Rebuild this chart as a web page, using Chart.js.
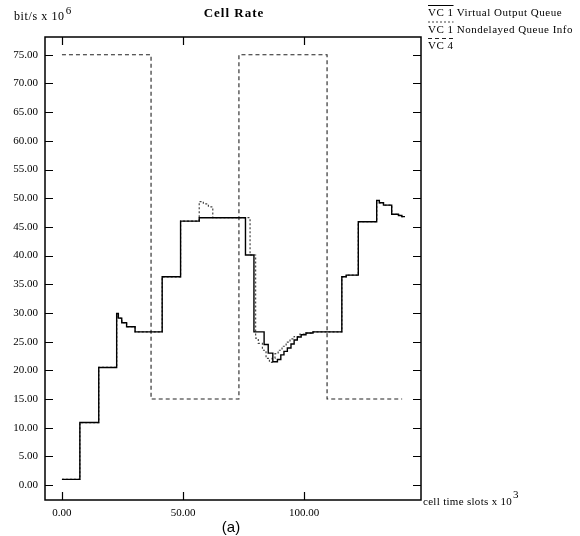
<!DOCTYPE html>
<html>
<head>
<meta charset="utf-8">
<script src="https://cdn.jsdelivr.net/npm/chart.js@4.4.0/dist/chart.umd.min.js"></script>
<style>
  html, body { margin: 0; padding: 0; background: #fff; }
  #wrap { width: 580px; height: 536px; }
</style>
</head>
<body>
<div id="wrap"><canvas id="chart" width="580" height="536"></canvas></div>
<script>
// valores (x: cell time slots x 10^3, y: bit/s x 10^6)
const seriesNames = ['VC 1 Virtual Output Queue', 'VC 1 Nondelayed Queue Info', 'VC 4'];

const voqX = [0, 7.4, 15.2, 22.6, 23.3, 24.7, 26.7, 30.2, 41.4, 49.0, 56.7, 75.8, 79.3, 83.5, 85.2, 87.1,
  89.0, 90.4, 91.7, 93.1, 94.6, 95.9, 97.2, 98.8, 100.8, 103.7, 115.6, 117.4, 122.4, 130.0, 131.1,
  132.8, 136.2, 139.0, 140.4, 141.7];
const voqY = [1.0, 10.9, 20.5, 29.9, 29.1, 28.3, 27.6, 26.7, 36.3, 46.0, 46.6, 40.1, 26.7, 24.5, 23.0, 21.5,
  21.9, 22.7, 23.3, 23.9, 24.6, 25.3, 25.8, 26.2, 26.5, 26.7, 36.3, 36.6, 45.9, 49.6, 49.2,
  48.8, 47.2, 47.0, 46.8, 46.8];

const ndqX = [0, 7.4, 15.2, 22.6, 23.3, 24.7, 26.7, 30.2, 41.4, 49.0, 56.7, 58.4, 60.5, 62.3, 77.7, 80.0,
  81.1, 82.8, 84.3, 85.7, 86.8, 88.0, 89.3, 90.9, 92.6, 94.2, 95.9, 98.3, 100.8, 103.7, 115.6,
  117.4, 122.4, 130.0, 131.1, 132.8, 136.2, 139.0, 140.4, 141.7];
const ndqY = [1.0, 10.9, 20.5, 29.9, 29.1, 28.3, 27.6, 26.7, 36.3, 46.0, 49.4, 49.0, 48.5, 46.6, 40.1, 25.6,
  24.7, 23.5, 22.1, 21.4, 22.1, 22.9, 23.5, 24.2, 24.9, 25.5, 25.9, 26.3, 26.5, 26.7, 36.3,
  36.6, 45.9, 49.6, 49.2, 48.8, 47.2, 47.0, 46.8, 46.8];

const vc4X = [0, 36.8, 73.1, 109.5, 140.5];
const vc4Y = [75, 15, 75, 15, 15];

const xTicks = [0, 50, 100];
const yTicks = [0, 5, 10, 15, 20, 25, 30, 35, 40, 45, 50, 55, 60, 65, 70, 75];

function toPoints(xs, ys) {
  return xs.map((x, i) => ({ x: x, y: ys[i] }));
}

const SERIF = '"Liberation Serif", "Times New Roman", serif';

// marco con marcas hacia dentro, textos sueltos y leyenda
const framePlugin = {
  id: 'frame',
  afterDraw(chart) {
    const ctx = chart.ctx;
    const a = chart.chartArea;
    const xs = chart.scales.x, ys = chart.scales.y;
    ctx.save();
    ctx.strokeStyle = '#000';
    ctx.lineWidth = 1.5;
    ctx.strokeRect(a.left, a.top, a.right - a.left, a.bottom - a.top);
    ctx.lineWidth = 1.2;
    ctx.beginPath();
    yTicks.forEach(v => {
      const p = Math.round(ys.getPixelForValue(v)) + 0.5;
      ctx.moveTo(a.left, p); ctx.lineTo(a.left + 8, p);
      ctx.moveTo(a.right, p); ctx.lineTo(a.right - 8, p);
    });
    xTicks.forEach(v => {
      const p = Math.round(xs.getPixelForValue(v)) + 0.5;
      ctx.moveTo(p, a.bottom); ctx.lineTo(p, a.bottom - 8);
      ctx.moveTo(p, a.top); ctx.lineTo(p, a.top + 8);
    });
    ctx.stroke();

    ctx.fillStyle = '#000';
    ctx.textBaseline = 'alphabetic';
    // titulo
    ctx.font = 'bold 13px ' + SERIF;
    ctx.textAlign = 'center';
    ctx.letterSpacing = '1px';
    ctx.fillText('Cell Rate', 234, 17);
    // unidades
    ctx.textAlign = 'left';
    ctx.letterSpacing = '0.6px';
    ctx.font = '12px ' + SERIF;
    ctx.fillText('bit/s x 10', 14, 20);
    let w = ctx.measureText('bit/s x 10').width;
    ctx.font = '11px ' + SERIF;
    ctx.fillText('6', 14 + w + 1, 14);
    ctx.letterSpacing = '0.3px';
    ctx.font = '11px ' + SERIF;
    ctx.fillText('cell time slots x 10', a.right + 2, a.bottom + 5);
    w = ctx.measureText('cell time slots x 10').width;
    ctx.font = '11px ' + SERIF;
    ctx.fillText('3', a.right + 2 + w + 1, a.bottom - 2);
    ctx.letterSpacing = '0px';
    // (a)
    ctx.font = '15px "Liberation Sans", Arial, sans-serif';
    ctx.textAlign = 'center';
    ctx.fillText('(a)', 231, 532);

    // leyenda
    ctx.textAlign = 'left';
    ctx.font = '11px ' + SERIF;
    ctx.letterSpacing = '0.5px';
    chart.data.datasets.forEach((ds, i) => {
      const baseY = 16 + i * 16.5;
      const lx = a.right + 7;
      ctx.fillStyle = '#000';
      ctx.fillText(ds.label, lx, baseY);
      const lw = ctx.measureText(ds.label.slice(0, 4)).width;
      ctx.strokeStyle = ds.borderColor;
      ctx.lineWidth = 1;
      ctx.setLineDash(ds.borderDash || []);
      ctx.beginPath();
      ctx.moveTo(lx, baseY - 10.5);
      ctx.lineTo(lx + lw, baseY - 10.5);
      ctx.stroke();
      ctx.setLineDash([]);
    });
    ctx.restore();
  }
};

new Chart(document.getElementById('chart'), {
  type: 'line',
  data: {
    datasets: [{
      label: seriesNames[0],
      data: toPoints(voqX, voqY),
      borderColor: '#000',
      borderWidth: 1.4,
      stepped: 'before',
      pointRadius: 0
    }, {
      label: seriesNames[1],
      data: toPoints(ndqX, ndqY),
      borderColor: '#444',
      borderWidth: 1.2,
      borderDash: [2, 2],
      stepped: 'before',
      pointRadius: 0
    }, {
      label: seriesNames[2],
      data: toPoints(vc4X, vc4Y),
      borderColor: '#222',
      borderWidth: 1.1,
      borderDash: [4, 3],
      stepped: 'before',
      pointRadius: 0
    }]
  },
  options: {
    responsive: false,
    animation: false,
    devicePixelRatio: 1,
    layout: { padding: { top: 37, right: 159, bottom: 0, left: 0 } },
    plugins: {
      legend: { display: false },
      tooltip: { enabled: false },
      title: { display: false }
    },
    scales: {
      x: {
        type: 'linear',
        min: -7,
        max: 148.3,
        grid: { display: false, drawTicks: false },
        border: { display: false },
        afterBuildTicks: s => { s.ticks = xTicks.map(v => ({ value: v })); },
        afterFit: s => { s.height = 36; },
        ticks: {
          padding: 7,
          color: '#000',
          maxRotation: 0,
          font: { family: SERIF, size: 11 },
          callback: v => v.toFixed(2)
        }
      },
      y: {
        type: 'linear',
        min: -2.6,
        max: 78.1,
        grid: { display: false, drawTicks: false },
        border: { display: false },
        afterBuildTicks: s => { s.ticks = yTicks.map(v => ({ value: v })); },
        afterFit: s => { s.width = 45; },
        ticks: {
          padding: 7,
          color: '#000',
          font: { family: SERIF, size: 11 },
          callback: v => v.toFixed(2)
        }
      }
    }
  },
  plugins: [framePlugin]
});
</script>
</body>
</html>
